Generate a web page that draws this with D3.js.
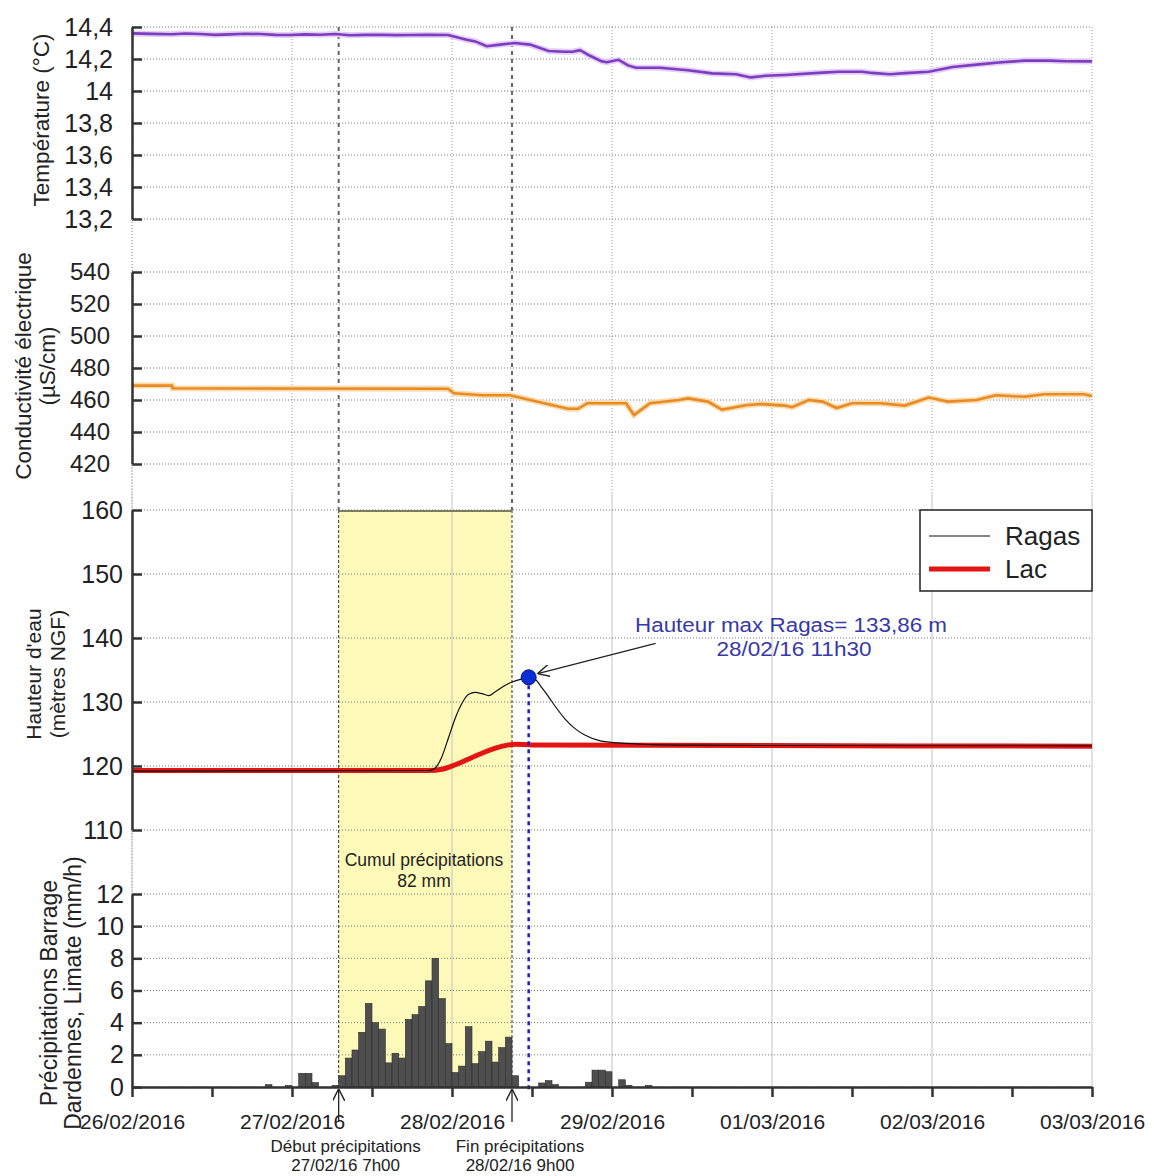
<!DOCTYPE html>
<html>
<head>
<meta charset="utf-8">
<script src="https://cdn.jsdelivr.net/npm/d3@7"></script>
<style>
  body { margin: 0; background: #fff; }
  svg { font-family: "Liberation Sans", Arial, sans-serif; }
</style>
</head>
<body>
<svg id="chart" width="1154" height="1176"></svg>
<script>
// heures depuis le 26/02/2016 00h00
const t0 = Date.UTC(2016, 1, 26);
const HOUR = 3600 * 1000;

const tempTicks = [13.2, 13.4, 13.6, 13.8, 14, 14.2, 14.4];
const condTicks = [420, 440, 460, 480, 500, 520, 540];
const hautTicks = [110, 120, 130, 140, 150, 160];
const pluieTicks = [0, 2, 4, 6, 8, 10, 12];

// [heure, °C]
const temperature = [
  [0, 14.36], [3, 14.357], [6, 14.355], [8, 14.359], [10.2, 14.356], [12.5, 14.351], [14.7, 14.354],
  [17, 14.358], [19.2, 14.356], [21.5, 14.351], [23.7, 14.35], [26, 14.354], [28.2, 14.352],
  [30.5, 14.356], [32.7, 14.348], [35, 14.351], [37.2, 14.352], [39.5, 14.349], [41.7, 14.35],
  [44.5, 14.352], [47.4, 14.35], [50.2, 14.32], [51.5, 14.31], [53.2, 14.28], [55.2, 14.29],
  [57.4, 14.3], [59.7, 14.29], [62.5, 14.25], [64.9, 14.245], [66.1, 14.245], [67.2, 14.255],
  [68.7, 14.22], [70.5, 14.185], [71.2, 14.18], [73, 14.195], [74.4, 14.16], [75.6, 14.145],
  [79.2, 14.145], [83.4, 14.13], [87, 14.11], [90.6, 14.105], [92.8, 14.085], [95, 14.095],
  [97.9, 14.1], [103.6, 14.115], [106, 14.12], [109.5, 14.12], [111, 14.113], [113.7, 14.105],
  [116, 14.112], [119.5, 14.12], [123.1, 14.15], [126.7, 14.165], [130, 14.178], [133.9, 14.19],
  [137.7, 14.19], [140, 14.186], [144, 14.185]
];

// [heure, µS/cm]
const conductivite = [
  [0, 469], [6, 469], [6.1, 467.3], [47.4, 467], [48.3, 464.2], [52.5, 463], [56.7, 463],
  [61.8, 458], [65.4, 454.5], [66.9, 454.5], [68.3, 458], [74.1, 458], [75.3, 450.6],
  [77.7, 458], [82, 460], [83.4, 461], [86.4, 459], [88.5, 454], [92.1, 456.7], [94.2, 457.5],
  [97.9, 456.5], [99, 455.5], [101.5, 460], [103.6, 459], [105.7, 455], [108, 458],
  [112.3, 458], [115.9, 456.5], [119.5, 461.5], [122.4, 459], [126.7, 460], [129.6, 463],
  [133.9, 462], [136.8, 463.6], [142.8, 463.6], [144, 462.5]
];

// [heure, m NGF]
const lac = [
  [0, 119.3], [44.5, 119.3], [46.5, 119.5], [48.5, 120.2], [50.5, 121.1], [52.5, 122],
  [54.5, 122.8], [56.5, 123.3], [57.5, 123.4], [60, 123.3], [144, 123.1]
];
const ragas = [
  [0, 119.2], [44.5, 119.3], [45.5, 119.7], [46.5, 121.5], [47.5, 124.5], [48.5, 127.5],
  [49.5, 129.8], [50.5, 131.2], [51.5, 131.5], [52.5, 131.3], [53.5, 131.0], [54.5, 131.6],
  [55.5, 132.3], [56.5, 132.9], [57.5, 133.3], [58.5, 133.6], [59.5, 133.86], [60.5, 133.5],
  [61.5, 132.2], [62.5, 130.8], [63.5, 129.3], [65, 127.3], [66.5, 125.8], [68, 124.8],
  [70, 124.0], [73, 123.6], [78, 123.35], [85, 123.25], [95, 123.2], [144, 123.15]
];

// [heure de début, mm/h]
const pluie = [
  [20, 0.15], [23, 0.1], [25, 0.85], [26, 0.85], [27, 0.27], [30, 0.1],
  [31, 0.7], [32, 1.8], [33, 2.3], [34, 3.4], [35, 5.2], [36, 4.0], [37, 3.6], [38, 1.5],
  [39, 2.1], [40, 1.8], [41, 4.2], [42, 4.5], [43, 5.0], [44, 6.6], [45, 8.0], [46, 5.5],
  [47, 2.7], [48, 0.9], [49, 1.3], [50, 3.75], [51, 1.45], [52, 2.2], [53, 2.85], [54, 1.55],
  [55, 2.45], [56, 3.1], [57, 0.7], [61, 0.25], [62, 0.4], [63, 0.15], [68, 0.3],
  [69, 1.05], [70, 1.05], [71, 0.95], [73, 0.45], [74, 0.1], [77, 0.1]
];

const debutPluie = 31;   // 27/02/16 7h00
const finPluie = 57;     // 28/02/16 9h00
const picRagas = [59.5, 133.86];

const svg = d3.select("#chart");

const x = d3.scaleUtc()
  .domain([new Date(t0), new Date(t0 + 144 * HOUR)])
  .range([132, 1092]);
const xh = h => x(new Date(t0 + h * HOUR));

const yTemp = d3.scaleLinear().domain([13.2, 14.4]).range([219, 27]);
const yCond = d3.scaleLinear().domain([420, 540]).range([464, 272]);
const yHaut = d3.scaleLinear().domain([110, 160]).range([830, 510]);
const yPluie = d3.scaleLinear().domain([0, 12]).range([1087, 894]);

const comma = d => String(+d.toFixed(1)).replace(".", ",");

// markers
const defs = svg.append("defs");
defs.append("marker")
  .attr("id", "fleche")
  .attr("viewBox", "0 0 10 10")
  .attr("refX", 9).attr("refY", 5)
  .attr("markerWidth", 12).attr("markerHeight", 12)
  .attr("markerUnits", "userSpaceOnUse")
  .attr("orient", "auto")
  .append("path")
  .attr("d", "M0,0 L10,5 L0,10")
  .attr("fill", "none")
  .attr("stroke", "#222")
  .attr("stroke-width", 1.2);

// zone de pluie
svg.append("rect")
  .attr("x", xh(debutPluie))
  .attr("y", yHaut(160))
  .attr("width", xh(finPluie) - xh(debutPluie))
  .attr("height", yPluie(0) - yHaut(160))
  .attr("fill", "#fcf9b9");

// grille verticale
const jours = d3.utcDay.range(new Date(t0), new Date(t0 + 144 * HOUR + 1));
svg.append("g").selectAll("line").data(jours).join("line")
  .attr("x1", d => x(d)).attr("x2", d => x(d))
  .attr("y1", 27).attr("y2", 492)
  .attr("stroke", "#999").attr("stroke-dasharray", "1,2");
svg.append("g").selectAll("line").data(jours).join("line")
  .attr("x1", d => x(d)).attr("x2", d => x(d))
  .attr("y1", 492).attr("y2", 1087)
  .attr("stroke", "#c4c4c4");

// grille horizontale
function grille(scale, ticks) {
  svg.append("g").selectAll("line").data(ticks).join("line")
    .attr("x1", 132).attr("x2", 1092)
    .attr("y1", d => scale(d)).attr("y2", d => scale(d))
    .attr("stroke", "#777").attr("stroke-dasharray", "1,2");
}
grille(yTemp, tempTicks);
grille(yCond, condTicks);
grille(yHaut, hautTicks);
grille(yPluie, pluieTicks);

// bords de la zone de pluie
[debutPluie, finPluie].forEach(h => {
  svg.append("line")
    .attr("x1", xh(h)).attr("x2", xh(h))
    .attr("y1", 27).attr("y2", yHaut(160))
    .attr("stroke", "#666").attr("stroke-width", 2)
    .attr("stroke-dasharray", "4,4");
  svg.append("line")
    .attr("x1", xh(h)).attr("x2", xh(h))
    .attr("y1", yHaut(160)).attr("y2", yPluie(0))
    .attr("stroke", "#333").attr("stroke-width", 1)
    .attr("stroke-dasharray", "3,2");
});
svg.append("line")
  .attr("x1", xh(debutPluie)).attr("x2", xh(finPluie))
  .attr("y1", yHaut(160) + 1).attr("y2", yHaut(160) + 1)
  .attr("stroke", "#7d7b62").attr("stroke-width", 2);

// courbes
const line = (scale, curve) => d3.line()
  .x(d => xh(d[0])).y(d => scale(d[1])).curve(curve);

svg.append("path").datum(temperature)
  .attr("d", line(yTemp, d3.curveLinear))
  .attr("fill", "none").attr("stroke", "#e6ccf6").attr("stroke-width", 6);
svg.append("path").datum(temperature)
  .attr("d", line(yTemp, d3.curveLinear))
  .attr("fill", "none").attr("stroke", "#7a3ec0").attr("stroke-width", 2.6);

svg.append("path").datum(conductivite)
  .attr("d", line(yCond, d3.curveLinear))
  .attr("fill", "none").attr("stroke", "#f9dcae").attr("stroke-width", 6);
svg.append("path").datum(conductivite)
  .attr("d", line(yCond, d3.curveLinear))
  .attr("fill", "none").attr("stroke", "#e88a26").attr("stroke-width", 2.6);

svg.append("path").datum(lac)
  .attr("d", line(yHaut, d3.curveMonotoneX))
  .attr("fill", "none").attr("stroke", "#e31414").attr("stroke-width", 5);
svg.append("path").datum(ragas)
  .attr("d", line(yHaut, d3.curveMonotoneX))
  .attr("fill", "none").attr("stroke", "#111").attr("stroke-width", 1.2);

// précipitations
svg.append("g").selectAll("rect").data(pluie).join("rect")
  .attr("x", d => xh(d[0]))
  .attr("width", d => xh(d[0] + 1) - xh(d[0]))
  .attr("y", d => yPluie(d[1]))
  .attr("height", d => yPluie(0) - yPluie(d[1]))
  .attr("fill", "#4e4e4e")
  .attr("stroke", "#2e2e2e")
  .attr("stroke-width", 0.6);

// pic Ragas
const px = xh(picRagas[0]), py = yHaut(picRagas[1]);
svg.append("line")
  .attr("x1", px).attr("x2", px)
  .attr("y1", py).attr("y2", yPluie(0) + 3)
  .attr("stroke", "#1c1cd0").attr("stroke-width", 2.5)
  .attr("stroke-dasharray", "4,4");
svg.append("line")
  .attr("x1", px + 127).attr("y1", py - 34)
  .attr("x2", px + 10).attr("y2", py - 4)
  .attr("stroke", "#222").attr("stroke-width", 1.2)
  .attr("marker-end", "url(#fleche)");
svg.append("circle")
  .attr("cx", px).attr("cy", py).attr("r", 7.5)
  .attr("fill", "#0b2fd6").attr("stroke", "#101060").attr("stroke-width", 1);

svg.append("text")
  .attr("x", 791).attr("y", 632)
  .attr("text-anchor", "middle")
  .attr("font-size", 20).attr("fill", "#3838a8")
  .attr("textLength", 312).attr("lengthAdjust", "spacingAndGlyphs")
  .text("Hauteur max Ragas= 133,86 m");
svg.append("text")
  .attr("x", 794).attr("y", 656)
  .attr("text-anchor", "middle")
  .attr("font-size", 20).attr("fill", "#3838a8")
  .attr("textLength", 155).attr("lengthAdjust", "spacingAndGlyphs")
  .text("28/02/16 11h30");

svg.append("text")
  .attr("x", 424).attr("y", 866)
  .attr("text-anchor", "middle")
  .attr("font-size", 17.5).attr("fill", "#222")
  .text("Cumul précipitations");
svg.append("text")
  .attr("x", 424).attr("y", 887)
  .attr("text-anchor", "middle")
  .attr("font-size", 17.5).attr("fill", "#222")
  .text("82 mm");

// axes Y
function axeY(scale, ticks, fmt, size, pad) {
  const g = svg.append("g")
    .attr("transform", "translate(132,0)")
    .call(d3.axisLeft(scale)
      .tickValues(ticks)
      .tickFormat(fmt)
      .tickSizeInner(-10)
      .tickSizeOuter(0)
      .tickPadding(pad));
  g.select(".domain").attr("stroke", "#333").attr("stroke-width", 2.5);
  g.selectAll(".tick line").attr("stroke", "#333").attr("stroke-width", 2.5);
  g.selectAll(".tick text")
    .attr("font-size", size)
    .attr("fill", "#222")
    .attr("font-family", "Liberation Sans, Arial, sans-serif");
}
axeY(yTemp, tempTicks, comma, 25, 19);
axeY(yCond, condTicks, d3.format("d"), 24, 22);
axeY(yHaut, hautTicks, d3.format("d"), 25, 9);
axeY(yPluie, pluieTicks, d3.format("d"), 25, 8);

// liaisons claires entre les axes
[[219, 272], [464, 510], [830, 894]].forEach(([a, b]) => {
  svg.append("line")
    .attr("x1", 132).attr("x2", 132).attr("y1", a).attr("y2", b)
    .attr("stroke", "#aaa").attr("stroke-dasharray", "1,2");
});

// axe X
const gx = svg.append("g")
  .attr("transform", `translate(0,${yPluie(0)})`)
  .call(d3.axisBottom(x)
    .ticks(d3.utcHour.every(12))
    .tickFormat(d => d.getUTCHours() === 0 ? d3.utcFormat("%d/%m/%Y")(d) : "")
    .tickSizeInner(10)
    .tickSizeOuter(0)
    .tickPadding(17));
gx.select(".domain").attr("stroke", "#333").attr("stroke-width", 2.5);
gx.selectAll(".tick line").attr("stroke", "#333").attr("stroke-width", 2.5);
gx.selectAll(".tick text")
  .attr("font-size", 21).attr("fill", "#222")
  .attr("font-family", "Liberation Sans, Arial, sans-serif");

// flèches début / fin
[debutPluie, finPluie].forEach(h => {
  svg.append("line")
    .attr("x1", xh(h)).attr("x2", xh(h))
    .attr("y1", 1122).attr("y2", 1090)
    .attr("stroke", "#222").attr("stroke-width", 1.3)
    .attr("marker-end", "url(#fleche)");
});
const notes = [
  [debutPluie, 7, "Début précipitations", "27/02/16 7h00"],
  [finPluie, 8, "Fin précipitations", "28/02/16 9h00"]
];
notes.forEach(([h, dx, l1, l2]) => {
  svg.append("text").attr("x", xh(h) + dx).attr("y", 1152)
    .attr("text-anchor", "middle").attr("font-size", 17).attr("fill", "#222").text(l1);
  svg.append("text").attr("x", xh(h) + dx).attr("y", 1171)
    .attr("text-anchor", "middle").attr("font-size", 17).attr("fill", "#222").text(l2);
});

// titres des axes
function titre(cx, cy, size, lines, gap) {
  const t = svg.append("text")
    .attr("transform", `translate(${cx},${cy}) rotate(-90)`)
    .attr("text-anchor", "middle")
    .attr("font-size", size)
    .attr("fill", "#222");
  lines.forEach((s, i) => {
    t.append("tspan").attr("x", 0).attr("y", i * gap).text(s);
  });
}
titre(49, 120, 22.5, ["Température (°C)"], 0);
titre(31, 366, 22.5, ["Conductivité électrique"], 0);
titre(55, 366, 22.5, ["(µS/cm)"], 0);
titre(41, 674, 21, ["Hauteur d'eau", "(mètres NGF)"], 24);
titre(57, 993, 23, ["Précipitations Barrage", "Dardennes, Limate (mm/h)"], 24);

// légende
const leg = svg.append("g").attr("transform", "translate(920,510)");
leg.append("rect")
  .attr("width", 172).attr("height", 81)
  .attr("fill", "#fff").attr("stroke", "#222").attr("stroke-width", 1.5);
leg.append("line").attr("x1", 9).attr("x2", 70).attr("y1", 26).attr("y2", 26)
  .attr("stroke", "#111").attr("stroke-width", 1.2);
leg.append("line").attr("x1", 9).attr("x2", 70).attr("y1", 59).attr("y2", 59)
  .attr("stroke", "#e31414").attr("stroke-width", 5);
leg.append("text").attr("x", 85).attr("y", 35).attr("font-size", 26).attr("fill", "#222").text("Ragas");
leg.append("text").attr("x", 85).attr("y", 68).attr("font-size", 26).attr("fill", "#222").text("Lac");
</script>
</body>
</html>
